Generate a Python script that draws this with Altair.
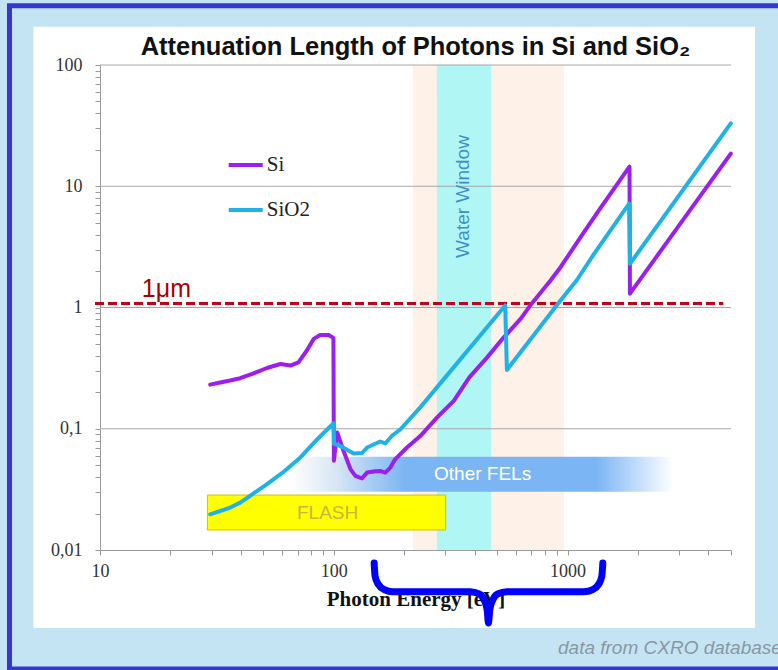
import altair as alt
import pandas as pd

# ---------------- data ----------------
si_energy = [29.6, 32.7, 36.0, 39.8, 45.4, 51.8, 59.1, 65.2, 70.6, 76.7, 82.0, 87.5, 95.0, 99.6,
             100.1, 103.5, 110, 117.8, 123.7, 132, 138.8, 150.6, 158, 166, 174.6, 183.3, 205.6,
             234.4, 276.8, 326, 380, 453, 530, 629.6, 703, 845, 933, 1150, 1377, 1840, 1848,
             3030, 4990]
si_length = [0.231, 0.241, 0.250, 0.261, 0.286, 0.317, 0.342, 0.332, 0.353, 0.442, 0.551, 0.594,
             0.594, 0.562, 0.0545, 0.093, 0.0658, 0.0465, 0.0409, 0.039, 0.0435, 0.0446, 0.0449,
             0.0435, 0.0478, 0.0562, 0.070, 0.087, 0.124, 0.170, 0.265, 0.388, 0.56, 0.806, 1.08,
             1.67, 2.15, 3.94, 6.53, 14.5, 1.30, 4.9, 18.6]

sio2_energy = [29.6, 36.1, 39.8, 51.8, 60, 72, 85, 99.8, 100.3, 106.7, 121.6, 132, 138.8, 158,
               166, 177.4, 192.8, 234.4, 541, 550, 911, 1096, 1291, 1834, 1850, 4990]
sio2_length = [0.0197, 0.0224, 0.0246, 0.0349, 0.043, 0.058, 0.082, 0.111, 0.075, 0.072, 0.0625,
               0.063, 0.070, 0.0785, 0.0756, 0.0875, 0.099, 0.150, 1.04, 0.305, 1.08, 1.686, 2.73,
               7.2, 2.30, 33.0]

series_names = ["Si", "SiO2"]
series_colors = ["#9b1ff0", "#1fb2e8"]

x_tick_values = [10, 20, 30, 40, 50, 60, 70, 80, 90, 100, 200, 300, 400, 500, 600, 700, 800, 900,
                 1000, 2000, 3000, 4000, 5000]
x_label_values = [10, 100, 1000]
x_label_texts = ["10", "100", "1000"]
y_tick_values = [0.01, 0.02, 0.03, 0.04, 0.05, 0.06, 0.07, 0.08, 0.09,
                 0.1, 0.2, 0.3, 0.4, 0.5, 0.6, 0.7, 0.8, 0.9,
                 1, 2, 3, 4, 5, 6, 7, 8, 9,
                 10, 20, 30, 40, 50, 60, 70, 80, 90, 100]
y_label_values = [0.01, 0.1, 1, 10, 100]
y_label_texts = ["0,01", "0,1", "1", "10", "100"]
grid_values = [0.1, 1, 10, 100]

peach_band = [218, 966]
water_window = [276, 471]
flash_energy = [28.8, 301]
flash_length = [0.01462, 0.0284]
fels_energy = [65, 2830]
fels_length = [0.0303, 0.0587]
micron_energy = [9.52, 4636]
micron_length = [1.08, 1.08]

brace_energy = [148.8, 150.2, 154.7, 164.2, 179.4, 383.0, 418.6, 439.7, 452.9, 458.7, 464.6,
                478.6, 502.8, 549.4, 1173, 1282, 1360, 1401, 1415]
brace_length = [0.00781, 0.00610, 0.00524, 0.00472, 0.00453, 0.00453, 0.00434, 0.00387, 0.00320,
                0.00250, 0.00320, 0.00387, 0.00434, 0.00453, 0.00453, 0.00472, 0.00524, 0.00610,
                0.00781]

annotation_texts = ["Water Window", "FLASH", "Other FELs", "1\u03bcm"]
annotation_energy = [357.5, 94.1, 433, 15.1]
annotation_length = [8.23, 0.0201, 0.0424, 1.22]

title_text = "Attenuation Length of Photons in Si and SiO\u2082"
x_title = "Photon Energy [eV]"
credit_text = "data from CXRO database"

# ---------------- tables ----------------
rows = []
for name, es, vs in (("Si", si_energy, si_length), ("SiO2", sio2_energy, sio2_length)):
    for i, (e, v) in enumerate(zip(es, vs)):
        rows.append({"series": name, "E": e, "V": v, "idx": i})
lines_df = pd.DataFrame(rows)

one = pd.DataFrame({"k": [0]})

def label_expr(values, texts):
    parts = [f"datum.value == {v} ? '{t}'" for v, t in zip(values, texts)]
    return " : ".join(parts) + " : ''"

xscale = alt.Scale(type="log", domain=[10, 5000], nice=False)
yscale = alt.Scale(type="log", domain=[0.01, 100], nice=False)

xaxis = alt.Axis(values=x_tick_values, labelExpr=label_expr(x_label_values, x_label_texts),
                 tickSize=5, tickColor="#9a9a9a", domainColor="#9a9a9a", grid=False,
                 labelFont="Liberation Serif", labelFontSize=18, labelColor="#333333",
                 labelPadding=7, labelFlush=False, labelOverlap=False,
                 titleFont="Liberation Serif", titleFontSize=21, titleFontWeight="bold",
                 titleColor="#111111", titlePadding=8)
yaxis = alt.Axis(values=y_tick_values, labelExpr=label_expr(y_label_values, y_label_texts),
                 tickSize=5, tickColor="#9a9a9a", domainColor="#9a9a9a", grid=False,
                 labelFont="Liberation Serif", labelFontSize=18, labelColor="#333333",
                 labelPadding=13, labelFlush=False, labelOverlap=False)

def X(field):
    return alt.X(field, type="quantitative", scale=xscale, axis=xaxis, title=x_title)

def Y(field):
    return alt.Y(field, type="quantitative", scale=yscale, axis=yaxis, title=None)

def pixel_rect(x, y, x2, y2, **kw):
    return alt.Chart(one).mark_rect(**kw).encode(
        x=alt.value(x), y=alt.value(y), x2=alt.value(x2), y2=alt.value(y2))

LIGHT = "#c5e4f3"
# slide background strips and frame
strip_top = pixel_rect(-100, -65, 678, -38.3, fill=LIGHT)
strip_bottom = pixel_rect(-100, 563, 678, 605, fill=LIGHT)
strip_left = pixel_rect(-100, -65, -66.5, 605, fill=LIGHT)
strip_right = pixel_rect(655, -65, 678, 605, fill=LIGHT)
frame = pixel_rect(-90.5, -59.2, 720, 604, fill="#ffffff", fillOpacity=0,
                   stroke="#3737cd", strokeWidth=5)

peach = alt.Chart(pd.DataFrame({"a": [peach_band[0]], "b": [peach_band[1]]})).mark_rect(
    fill="#fdf1e8").encode(x=X("a"), x2="b")
water = alt.Chart(pd.DataFrame({"a": [water_window[0]], "b": [water_window[1]]})).mark_rect(
    fill="#b0f6f4").encode(x=X("a"), x2="b")

grid = alt.Chart(pd.DataFrame({"g": grid_values})).mark_rule(
    color="#a8a8a8", strokeWidth=1).encode(y=Y("g"))

fels = alt.Chart(pd.DataFrame({"a": [fels_energy[0]], "b": [fels_energy[1]],
                               "c": [fels_length[0]], "d": [fels_length[1]]})).mark_rect(
    fill=alt.LinearGradient(gradient="linear", x1=0, x2=1, y1=0, y2=0, stops=[
        alt.GradientStop(color="#ffffff", offset=0),
        alt.GradientStop(color="#d8e6f4", offset=0.12),
        alt.GradientStop(color="#7cb5f4", offset=0.3),
        alt.GradientStop(color="#7cb5f4", offset=0.8),
        alt.GradientStop(color="#ffffff", offset=1)])
).encode(x=X("a"), x2="b", y=Y("c"), y2="d")

flash = alt.Chart(pd.DataFrame({"a": [flash_energy[0]], "b": [flash_energy[1]],
                                "c": [flash_length[0]], "d": [flash_length[1]]})).mark_rect(
    fill="#ffff00", stroke="#d2c200", strokeWidth=1).encode(x=X("a"), x2="b", y=Y("c"), y2="d")

ann = pd.DataFrame({"t": annotation_texts, "E": annotation_energy, "V": annotation_length})
water_txt = alt.Chart(ann.iloc[[0]]).mark_text(
    angle=270, font="Liberation Sans", fontSize=19, color="#3f8fc6", align="center",
    baseline="middle").encode(x=X("E"), y=Y("V"), text="t:N")
flash_txt = alt.Chart(ann.iloc[[1]]).mark_text(
    font="Liberation Sans", fontSize=19, color="#c9b83c", align="center",
    baseline="middle").encode(x=X("E"), y=Y("V"), text="t:N")
fels_txt = alt.Chart(ann.iloc[[2]]).mark_text(
    font="Liberation Sans", fontSize=19, color="#ffffff", align="center",
    baseline="middle").encode(x=X("E"), y=Y("V"), text="t:N")
micron_txt = alt.Chart(ann.iloc[[3]]).mark_text(
    font="Liberation Sans", fontSize=25, color="#a80000", align="left",
    baseline="alphabetic").encode(x=X("E"), y=Y("V"), text="t:N")

micron = alt.Chart(pd.DataFrame({"E": micron_energy, "V": micron_length})).mark_line(
    color="#c4001c", strokeWidth=3, strokeDash=[9, 4]).encode(x=X("E"), y=Y("V"))

lines = alt.Chart(lines_df).mark_line(strokeWidth=4, strokeJoin="round", strokeCap="round").encode(
    x=X("E"), y=Y("V"),
    color=alt.Color("series:N", sort=series_names,
                    scale=alt.Scale(domain=series_names, range=series_colors),
                    legend=alt.Legend(orient="none", legendX=126.7, legendY=81, title=None,
                                      direction="vertical", symbolType="stroke",
                                      symbolSize=1156, symbolStrokeWidth=4,
                                      labelFont="Liberation Serif", labelFontSize=21,
                                      labelColor="#222222", labelOffset=2, rowPadding=16)),
    order=alt.Order("idx:Q"))

brace = alt.Chart(pd.DataFrame({"E": brace_energy, "V": brace_length,
                                "i": list(range(len(brace_energy)))})).mark_line(
    color="#0000ff", strokeWidth=7, strokeCap="round", strokeJoin="round",
    interpolate="monotone").encode(x=X("E"), y=Y("V"), order="i:Q")

credit = alt.Chart(pd.DataFrame({"t": [credit_text]})).mark_text(
    font="Liberation Sans", fontSize=19, fontStyle="italic", color="#8a97a3",
    align="left", baseline="alphabetic").encode(
    x=alt.value(458), y=alt.value(588.5), text="t:N")

chart = alt.layer(
    strip_top, strip_bottom, strip_left, strip_right, frame,
    peach, water, grid, fels, flash,
    water_txt, flash_txt, fels_txt, micron, micron_txt,
    lines, brace, credit
).properties(
    width=631, height=485,
    title=alt.TitleParams(title_text, font="Liberation Sans", fontSize=25.5, fontWeight="bold",
                          color="#111111", anchor="middle", baseline="alphabetic", offset=10,
                          dy=90, frame="group"),
    autosize=alt.AutoSizeParams(type="none"),
    padding={"left": 100, "top": 65, "right": 47, "bottom": 120},
).configure(background="#ffffff").configure_view(stroke=None)

chart.save("out.html", embed_options={"renderer": "svg", "actions": False})
